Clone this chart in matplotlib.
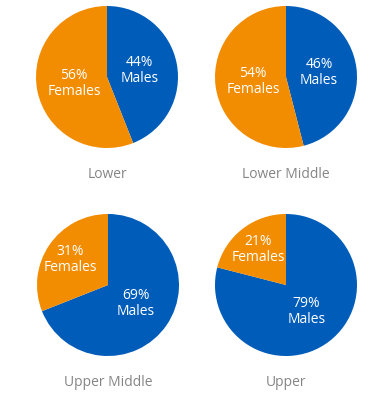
import matplotlib
matplotlib.use("Agg")
import matplotlib.pyplot as plt
import numpy as np

plt.rcParams['font.family'] = ['Open Sans', 'DejaVu Sans']

groups = ["Lower", "Lower Middle", "Upper Middle", "Upper"]
males = [44, 46, 69, 79]
females = [56, 54, 31, 21]
slice_names = ["Males", "Females"]
colors = ["#005CB9", "#F28C00"]

W, H = 369, 400
fig = plt.figure(figsize=(W / 100, H / 100), dpi=100)

centers = [(107, 77), (286, 77), (108, 285), (286, 285)]
R = 71

for i, g in enumerate(groups):
    cx, cy = centers[i]
    ax = fig.add_axes([(cx - R) / W, 1 - (cy + R) / H, 2 * R / W, 2 * R / H])
    vals = [males[i], females[i]]
    wedges, _ = ax.pie(vals, colors=colors, startangle=90, counterclock=False,
                       radius=1, wedgeprops=dict(linewidth=0))
    for w, v, name in zip(wedges, vals, slice_names):
        ang = np.deg2rad((w.theta1 + w.theta2) / 2)
        d = 0.64 if v < 35 else 0.47
        ax.text(d * np.cos(ang), d * np.sin(ang), f"{v}%\n{name}",
                ha="center", va="center", color="white", fontsize=10,
                linespacing=1.1)
    ax.set_xlim(-1, 1)
    ax.set_ylim(-1, 1)
    ax.set_aspect("equal")
    ax.axis("off")
    fig.text(cx / W, 1 - (cy + 97) / H, g, ha="center", va="center",
             color="#858585", fontsize=10)

fig.savefig("out.png", dpi=100)
